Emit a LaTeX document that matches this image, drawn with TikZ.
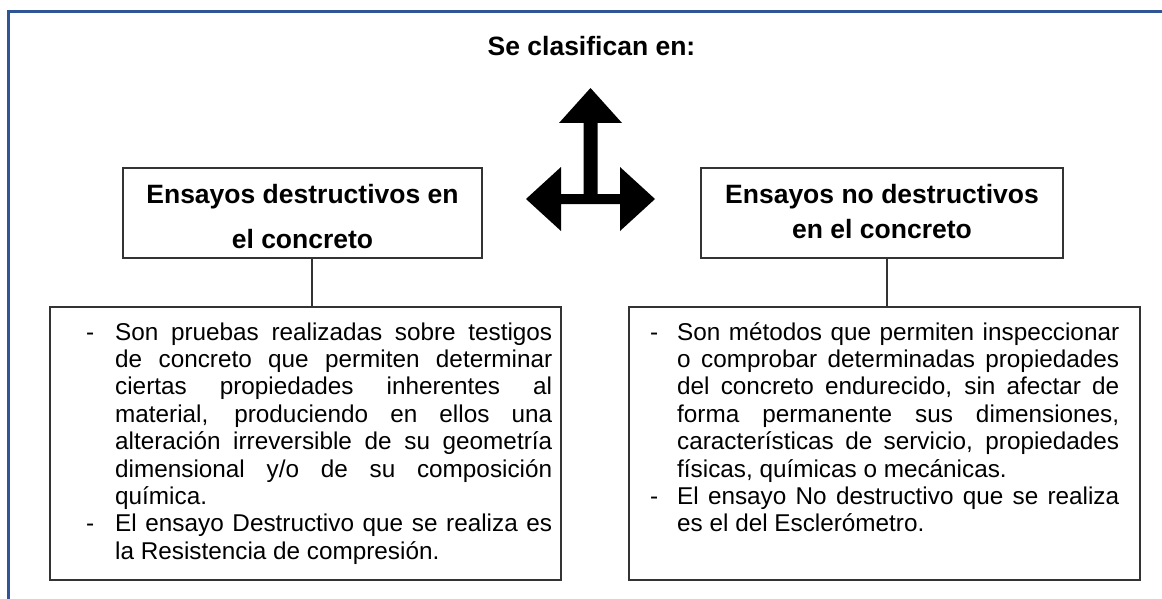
\documentclass[tikz,border=0pt]{standalone}
\usepackage{fontspec}
\setmainfont{Liberation Sans}
\definecolor{framebl}{HTML}{2F5597}
\definecolor{boxln}{HTML}{333333}
\newcommand{\bodyfont}{\fontsize{24.3}{27.4}\selectfont}
\newcommand{\hdrfont}{\fontsize{26.5}{30}\selectfont\bfseries}
\newcommand{\itmline}[2]{\hangindent=#1\hangafter=1\noindent\makebox[#1][l]{-}#2\par}
\tikzset{
  boxstyle/.style={draw=boxln, line width=1.2pt, inner sep=0pt},
  hdrtext/.style={anchor=base, inner sep=0pt, font=\hdrfont},
  bodytext/.style={anchor=base west, inner sep=0pt, font=\bodyfont},
  conn/.style={draw=boxln, line width=1.1pt}
}
\begin{document}
\begin{tikzpicture}[x=1pt,y=-1pt]
\useasboundingbox (0,0) rectangle (1162,599);
% outer frame (only left and top visible)
\draw[framebl, line width=3pt] (8.5,640) -- (8.5,12) -- (1200,12);
% title
\node[hdrtext] (title) at (591.5,56) {Se clasifican en:};
% three-way arrow
\fill[black] (590.5,88) -- (622,123) -- (597.5,123) -- (597.5,194) -- (620,194)
  -- (620,167) -- (655,199) -- (620,231) -- (620,204) -- (561,204) -- (561,231)
  -- (526,199) -- (561,167) -- (561,194) -- (583.5,194) -- (583.5,123) -- (559,123) -- cycle;
% header boxes
\node[boxstyle, minimum width=359pt, minimum height=90pt] (h1) at (302.5,213) {};
\node[hdrtext] (h1a) at (302.5,203) {Ensayos destructivos en};
\node[hdrtext] (h1b) at (302.5,248) {el concreto};
\node[boxstyle, minimum width=362pt, minimum height=90pt] (h2) at (882,213) {};
\node[hdrtext] (h2a) at (882,203) {Ensayos no destructivos};
\node[hdrtext] (h2b) at (882,238) {en el concreto};
% body boxes
\node[boxstyle, minimum width=511pt, minimum height=273pt] (b1) at (305.5,443.5) {};
\node[boxstyle, minimum width=511pt, minimum height=273pt] (b2) at (884.5,443.5) {};
% connectors
\coordinate (c1) at (312,0);
\coordinate (c2) at (887,0);
\draw[conn] (h1.south -| c1) -- (b1.north -| c1);
\draw[conn] (h2.south -| c2) -- (b2.north -| c2);
% body texts
\node[bodytext] (t1) at (86,340) {\parbox[t]{466pt}{\bodyfont\hyphenpenalty=10000\exhyphenpenalty=10000\hbadness=10000
\itmline{29pt}{Son pruebas realizadas sobre testigos\linebreak de concreto que permiten determinar\linebreak ciertas propiedades inherentes al\linebreak material, produciendo en ellos una\linebreak alteración irreversible de su geometría\linebreak dimensional y/o de su composición\linebreak química.}
\itmline{29pt}{El ensayo Destructivo que se realiza es\linebreak la Resistencia de compresión.}}};
\node[bodytext] (t2) at (650,340) {\parbox[t]{469pt}{\bodyfont\hyphenpenalty=10000\exhyphenpenalty=10000\hbadness=10000
\itmline{27pt}{Son métodos que permiten inspeccionar\linebreak o comprobar determinadas propiedades\linebreak del concreto endurecido, sin afectar de\linebreak forma permanente sus dimensiones,\linebreak características de servicio, propiedades\linebreak físicas, químicas o mecánicas.}
\itmline{27pt}{El ensayo No destructivo que se realiza\linebreak es el del Esclerómetro.}}};
\end{tikzpicture}
\end{document}
